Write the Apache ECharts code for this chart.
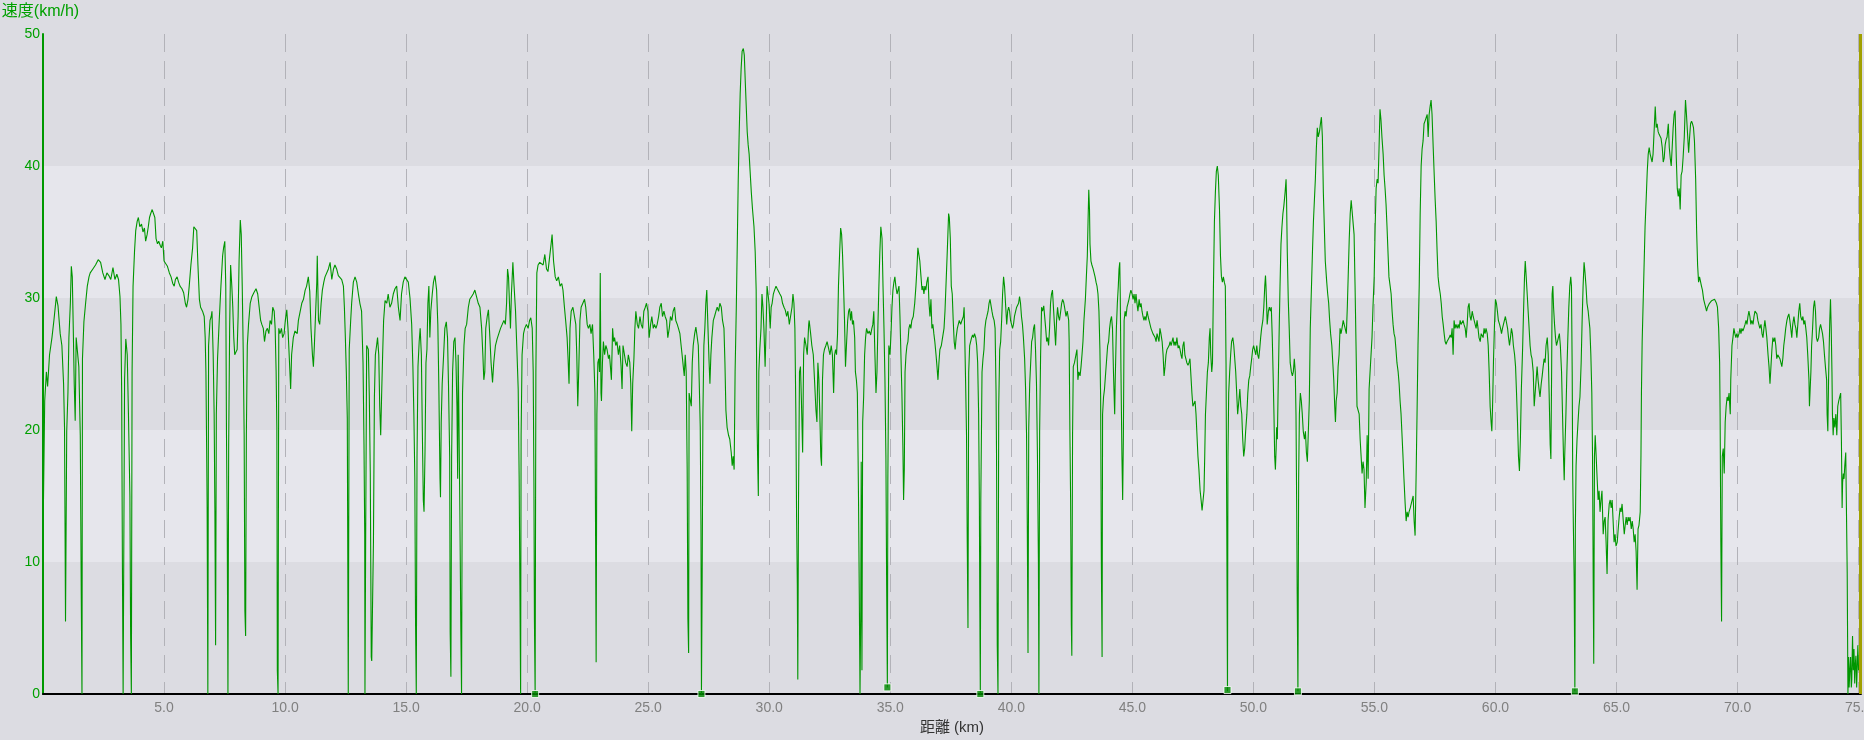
<!DOCTYPE html>
<html>
<head>
<meta charset="utf-8">
<style>
html,body{margin:0;padding:0;background:#dcdce2;}
#chart{width:1864px;height:740px;}
</style>
<script src="https://cdn.jsdelivr.net/npm/echarts@6/dist/echarts.min.js"></script>
</head>
<body>
<div id="chart"></div>
<script>
// distance along the route (km)
const distKm = [
0.02,0.07,0.14,0.19,0.27,0.37,0.45,0.55,0.62,0.71,0.78,0.85,0.89,0.93,0.98,1.03,1.07,1.13,1.17,1.21,1.25,1.29,1.33,1.37,1.43,1.48,1.54,1.58,1.61,1.63,1.69,1.76,1.83,1.90,1.95,2.06,2.17,2.28,2.38,2.47,2.56,2.64,2.72,2.80,2.89,2.97,3.05,3.12,3.18,3.22,3.25,3.28,3.31,3.34,3.37,3.42,3.48,3.53,3.59,3.62,3.65,3.68,3.72,3.78,3.83,3.89,3.94,4.00,4.07,4.13,4.19,4.24,4.30,4.35,4.40,4.45,4.51,4.56,4.62,4.67,4.73,4.78,4.84,4.89,4.95,5.00,5.06,5.14,5.22,5.29,5.36,5.42,5.47,5.54,5.60,5.66,5.74,5.81,5.88,5.93,5.99,6.04,6.11,6.18,6.23,6.29,6.35,6.40,6.46,6.51,6.59,6.66,6.70,6.73,6.76,6.78,6.81,6.84,6.90,6.95,6.98,7.03,7.07,7.10,7.13,7.16,7.21,7.28,7.35,7.42,7.46,7.51,7.55,7.58,7.61,7.64,7.67,7.71,7.75,7.80,7.84,7.88,7.92,7.97,8.02,8.06,8.10,8.15,8.19,8.23,8.27,8.31,8.34,8.37,8.40,8.44,8.49,8.56,8.63,8.71,8.80,8.87,8.93,8.99,9.04,9.10,9.15,9.21,9.27,9.33,9.38,9.44,9.49,9.55,9.59,9.63,9.66,9.68,9.71,9.74,9.79,9.85,9.90,9.96,10.01,10.07,10.12,
10.20,10.23,10.27,10.34,10.41,10.50,10.55,10.62,10.69,10.76,10.83,10.89,10.96,11.02,11.07,11.13,11.17,11.21,11.27,11.31,11.33,11.38,11.43,11.49,11.54,11.60,11.65,11.72,11.79,11.86,11.93,12.00,12.06,12.13,12.20,12.27,12.34,12.41,12.45,12.49,12.53,12.57,12.61,12.65,12.71,12.75,12.82,12.89,12.96,13.03,13.09,13.16,13.22,13.26,13.29,13.30,13.33,13.37,13.44,13.48,13.52,13.56,13.58,13.65,13.69,13.73,13.78,13.82,13.87,13.91,13.95,13.99,14.03,14.07,14.13,14.20,14.26,14.33,14.40,14.47,14.54,14.61,14.68,14.75,14.81,14.88,14.95,15.02,15.09,15.16,15.23,15.28,15.32,15.36,15.39,15.42,15.45,15.49,15.54,15.58,15.63,15.67,15.71,15.74,15.78,15.82,15.86,15.90,15.94,15.98,16.02,16.08,16.13,16.19,16.26,16.31,16.35,16.40,16.42,16.45,16.49,16.55,16.60,16.66,16.71,16.75,16.80,16.82,16.85,16.88,16.92,16.97,17.02,17.06,17.10,17.13,17.15,17.18,17.22,17.26,17.29,17.33,17.39,17.44,17.50,17.57,17.63,17.70,17.77,17.84,17.91,17.98,18.05,18.12,18.17,18.21,18.25,18.29,18.35,18.40,18.46,18.51,18.57,18.62,18.69,18.76,18.83,18.90,18.97,19.04,19.10,19.15,19.19,19.23,19.27,19.31,19.35,19.41,19.46,19.52,19.57,19.63,19.67,19.70,19.73,19.75,19.79,19.85,19.90,19.97,20.04,20.10,20.15,20.21,20.25,20.28,20.30,20.33,20.36,20.40,20.45,20.52,20.59,20.66,20.73,20.80,20.86,
20.99,21.03,21.09,21.16,21.22,21.29,21.36,21.43,21.48,21.54,21.59,21.65,21.69,21.73,21.77,21.82,21.89,21.96,22.01,22.05,22.09,22.13,22.18,22.23,22.30,22.37,22.42,22.48,22.53,22.59,22.64,22.70,22.75,22.80,22.82,22.85,22.88,22.92,22.96,22.99,23.02,23.05,23.07,23.11,23.15,23.20,23.25,23.30,23.36,23.40,23.44,23.48,23.53,23.57,23.61,23.66,23.71,23.77,23.82,23.88,23.92,23.96,24.02,24.07,24.13,24.18,24.24,24.28,24.32,24.36,24.41,24.45,24.49,24.55,24.60,24.66,24.71,24.77,24.82,24.88,24.93,24.99,25.04,25.10,25.15,25.21,25.26,25.32,25.37,25.43,25.48,25.54,25.59,25.65,25.70,25.76,25.81,25.87,25.92,25.98,26.03,26.09,26.14,26.20,26.25,26.31,26.36,26.40,26.45,26.49,26.53,26.57,26.61,26.64,26.67,26.69,26.73,26.78,26.82,26.86,26.92,26.97,27.03,27.07,27.11,27.15,27.18,27.20,27.23,27.26,27.30,27.34,27.38,27.42,27.47,27.51,27.55,27.59,27.63,27.69,27.74,27.80,27.85,27.91,27.96,28.02,28.07,28.13,28.17,28.21,28.26,28.32,28.37,28.43,28.47,28.51,28.55,28.59,28.64,28.68,28.72,28.76,28.80,28.84,28.88,28.93,28.97,29.01,29.05,29.09,29.13,29.17,29.21,29.26,29.31,29.37,29.42,29.46,29.49,29.52,29.55,29.57,29.61,29.66,29.70,29.74,29.78,29.83,29.87,29.91,29.95,29.99,30.04,30.08,30.12,30.17,30.22,30.28,30.33,30.39,30.44,30.50,30.55,30.61,30.66,30.72,30.77,30.83,30.88,30.94,30.98,31.02,31.06,31.10,31.13,31.16,31.18,31.21,31.25,31.29,31.33,31.38,31.42,31.46,31.52,31.57,31.63,
31.65,31.71,31.76,31.82,31.87,31.93,31.97,32.01,32.05,32.09,32.13,32.16,32.20,32.24,32.28,32.34,32.39,32.45,32.51,32.56,32.61,32.66,32.70,32.74,32.78,32.82,32.86,32.91,32.95,32.99,33.03,33.07,33.11,33.15,33.19,33.24,33.28,33.32,33.36,33.40,33.44,33.48,33.53,33.56,33.60,33.64,33.67,33.69,33.72,33.75,33.78,33.80,33.83,33.86,33.90,33.94,33.98,34.02,34.08,34.13,34.19,34.24,34.28,34.32,34.36,34.41,34.45,34.49,34.53,34.57,34.61,34.66,34.70,34.74,34.78,34.82,34.85,34.88,34.90,34.94,34.99,35.03,35.07,35.11,35.15,35.19,35.23,35.28,35.32,35.36,35.40,35.44,35.48,35.52,35.55,35.58,35.61,35.65,35.69,35.73,35.77,35.81,35.85,35.89,35.95,36.01,36.06,36.10,36.14,36.18,36.22,36.27,36.31,36.35,36.39,36.43,36.47,36.51,36.56,36.60,36.64,36.68,36.72,36.76,36.80,36.84,36.89,36.93,36.97,37.01,37.05,37.11,37.16,37.22,37.26,37.30,37.34,37.38,37.41,37.44,37.48,37.52,37.56,37.60,37.64,37.68,37.72,37.77,37.81,37.85,37.91,37.96,38.02,38.05,38.07,38.11,38.15,38.18,38.21,38.24,38.28,38.32,38.36,38.40,38.44,38.48,38.53,38.57,38.61,38.65,38.68,38.70,38.72,38.74,38.79,38.83,38.87,38.91,38.95,38.99,39.04,39.08,39.12,39.16,39.20,39.24,39.29,39.33,39.37,39.39,39.42,39.45,39.48,39.52,39.56,39.60,39.64,39.68,39.72,39.77,39.81,39.85,39.89,39.93,39.97,40.01,40.05,40.09,40.13,40.18,40.22,40.26,40.30,40.34,40.38,40.42,40.46,40.50,40.55,40.59,40.63,40.66,40.69,40.72,40.76,40.80,40.84,40.88,40.92,40.96,41.00,41.04,41.08,41.12,41.14,41.17,41.21,41.25,41.29,41.34,41.38,41.42,41.46,41.50,41.54,41.58,41.62,41.66,41.70,41.75,41.79,41.83,41.87,41.91,41.95,41.99,42.04,42.08,42.12,42.16,42.20,42.26,42.31,42.37,
42.39,42.42,42.45,42.48,42.50,42.53,42.56,42.61,42.67,42.71,42.75,42.79,42.84,42.88,42.92,42.96,43.00,43.06,43.10,43.14,43.17,43.20,43.23,43.25,43.29,43.33,43.38,43.42,43.46,43.50,43.54,43.58,43.62,43.66,43.69,43.72,43.75,43.77,43.81,43.85,43.90,43.94,43.98,44.02,44.06,44.10,44.14,44.18,44.22,44.27,44.29,44.34,44.38,44.42,44.45,44.48,44.50,44.53,44.57,44.60,44.63,44.66,44.70,44.74,44.78,44.82,44.86,44.90,44.94,44.99,45.03,45.07,45.11,45.15,45.19,45.23,45.28,45.32,45.36,45.40,45.44,45.48,45.52,45.56,45.61,45.65,45.69,45.73,45.77,45.81,45.85,45.90,45.94,45.98,46.02,46.06,46.10,46.14,46.18,46.23,46.27,46.31,46.35,46.39,46.43,46.47,46.52,46.56,46.60,46.64,46.68,46.72,46.76,46.80,46.84,46.89,46.93,46.97,47.01,47.05,47.09,47.13,47.17,47.21,47.25,47.30,47.34,47.38,47.42,47.46,47.50,47.55,47.59,47.63,47.67,47.71,47.75,47.80,47.84,47.88,47.92,47.96,47.99,48.02,48.06,48.10,48.14,48.18,48.21,48.24,48.28,48.31,48.35,48.39,48.43,48.47,48.51,48.55,48.60,48.64,48.68,48.72,48.76,48.80,48.84,48.87,48.90,48.93,48.95,48.98,49.02,49.06,49.10,49.15,49.19,49.23,49.27,49.31,49.35,49.40,49.44,49.48,49.52,49.56,49.60,49.64,49.68,49.73,49.77,49.81,49.85,49.89,49.93,49.97,50.01,50.05,50.10,50.14,50.18,50.22,50.26,50.30,50.34,50.39,50.43,50.47,50.50,50.52,50.55,50.57,50.62,50.66,50.70,50.74,50.78,50.82,50.85,50.88,50.91,50.94,50.96,50.99,51.02,51.06,51.10,51.14,51.18,51.22,51.26,51.31,51.35,51.37,51.40,51.44,51.48,51.52,51.57,51.61,51.65,51.69,51.73,51.76,51.79,51.81,51.84,51.87,51.90,51.94,51.98,52.02,52.06,52.11,52.15,52.19,52.23,52.27,52.31,52.35,52.40,52.44,52.48,52.52,52.56,52.60,52.64,52.68,52.73,52.77,52.81,52.85,52.89,52.93,52.97,
53.03,53.07,53.11,53.15,53.19,53.24,53.28,53.32,53.36,53.39,53.42,53.46,53.50,53.54,53.58,53.62,53.66,53.71,53.75,53.79,53.84,53.88,53.92,53.96,54.00,54.04,54.08,54.12,54.16,54.20,54.24,54.28,54.33,54.37,54.41,54.45,54.49,54.53,54.57,54.61,54.66,54.70,54.74,54.78,54.82,54.86,54.90,54.94,54.99,55.03,55.07,55.11,55.15,55.19,55.23,55.27,55.31,55.36,55.40,55.44,55.48,55.52,55.56,55.60,55.65,55.69,55.73,55.77,55.81,55.85,55.89,55.93,55.98,56.02,56.06,56.10,56.14,56.18,56.22,56.27,56.31,56.35,56.39,56.43,56.48,56.52,56.56,56.60,56.64,56.68,56.72,56.76,56.80,56.85,56.89,56.93,56.97,57.01,57.05,57.09,57.14,57.18,57.22,57.26,57.30,57.34,57.38,57.43,57.47,57.51,57.55,57.59,57.63,57.67,57.72,57.76,57.80,57.84,57.88,57.92,57.96,58.00,58.04,58.09,58.13,58.17,58.21,58.25,58.29,58.33,58.37,58.42,58.46,58.50,58.54,58.58,58.62,58.66,58.70,58.75,58.79,58.83,58.87,58.91,58.95,58.99,59.04,59.08,59.12,59.16,59.20,59.24,59.28,59.32,59.37,59.41,59.45,59.49,59.53,59.57,59.61,59.66,59.70,59.74,59.78,59.82,59.85,59.88,59.92,59.96,60.00,60.04,60.08,60.12,60.17,60.21,60.25,60.29,60.33,60.37,60.41,60.45,60.50,60.54,60.58,60.62,60.66,60.70,60.74,60.79,60.83,60.87,60.91,60.95,60.99,61.03,61.07,61.12,61.16,61.20,61.23,61.27,61.31,61.35,61.39,61.43,61.47,61.51,61.56,61.60,61.64,61.68,61.72,61.76,61.80,61.84,61.89,61.93,61.97,62.01,62.05,62.09,62.14,62.18,62.22,62.26,62.29,62.32,62.34,62.37,62.40,62.44,62.48,62.52,62.56,62.60,62.64,62.68,62.73,62.77,62.81,62.84,62.86,62.91,62.95,62.99,63.03,63.07,63.11,63.14,63.17,63.19,63.22,63.25,63.28,63.30,63.33,63.37,63.41,63.45,63.49,63.54,63.58,63.62,63.66,63.70,63.74,63.78,63.83,63.86,63.90,63.94,63.98,
64.01,64.04,64.06,64.09,64.12,64.16,64.20,64.24,64.28,64.32,64.36,64.40,64.45,64.49,64.53,64.57,64.61,64.65,64.70,64.74,64.78,64.82,64.86,64.90,64.94,64.98,65.03,65.07,65.11,65.15,65.19,65.23,65.28,65.32,65.36,65.40,65.44,65.48,65.52,65.56,65.61,65.65,65.69,65.73,65.77,65.81,65.85,65.89,65.93,65.98,66.01,66.03,66.06,66.10,66.14,66.18,66.23,66.27,66.31,66.35,66.39,66.43,66.47,66.51,66.56,66.60,66.64,66.68,66.72,66.76,66.80,66.84,66.89,66.93,66.97,67.01,67.05,67.09,67.14,67.18,67.22,67.26,67.30,67.34,67.38,67.42,67.47,67.51,67.55,67.59,67.63,67.67,67.71,67.75,67.80,67.83,67.85,67.89,67.93,67.98,68.02,68.06,68.10,68.14,68.18,68.22,68.27,68.31,68.35,68.39,68.43,68.47,68.51,68.55,68.60,68.64,68.68,68.72,68.76,68.80,68.84,68.89,68.93,68.97,69.01,69.05,69.09,69.13,69.17,69.22,69.26,69.28,69.31,69.34,69.37,69.41,69.45,69.49,69.53,69.57,69.61,69.65,69.70,69.72,69.77,69.81,69.85,69.89,69.93,69.97,70.01,70.06,70.10,70.14,70.18,70.22,70.26,70.31,70.35,70.39,70.43,70.47,70.51,70.55,70.59,70.64,70.68,70.72,70.76,70.80,70.84,70.88,70.92,70.97,71.01,71.05,71.09,71.13,71.17,71.21,71.26,71.30,71.34,71.38,71.42,71.46,71.50,71.54,71.58,71.62,71.66,71.70,71.75,71.79,71.83,71.87,71.91,71.95,71.99,72.04,72.08,72.12,72.16,72.20,72.24,72.28,72.33,72.37,72.41,72.45,72.49,72.53,72.57,72.61,72.66,72.70,72.74,72.78,72.82,72.86,72.90,72.95,72.97,73.00,73.03,73.06,73.10,73.14,73.18,73.22,73.26,73.30,73.35,73.39,73.43,73.47,73.51,73.55,73.59,73.63,73.68,73.70,73.73,73.76,73.78,73.81,73.84,73.87,73.90,73.92,73.95,73.98,74.02,74.06,74.10,74.14,74.18,74.22,74.26,74.29,74.32,74.34,74.37,74.40,74.43,74.47,74.50,74.53,74.56,74.59,74.61,74.64,74.67,74.70,74.72,74.75,74.78,74.81,74.84,74.86,74.89,74.92,74.95,74.97,75.00
];
// speed at each distance (km/h)
const speedKmh = [
14.7,22.2,24.4,23.3,25.7,27.0,28.3,30.1,29.4,27.3,26.4,23.5,20.1,5.5,19.9,22.8,27.0,29.6,32.4,31.6,27.7,23.5,20.7,27.0,27.0,24.8,19.6,7.6,0,25.4,28.2,29.6,30.9,31.6,31.9,32.2,32.5,32.9,32.7,31.9,31.4,31.9,31.7,31.4,32.3,31.4,31.8,31.4,30.1,28.0,22.8,9.9,0,0,23.8,26.9,25.7,21.2,15.0,4.4,0,24.4,30.9,33.5,35.1,35.8,36.1,35.4,35.6,35.0,35.3,34.3,34.8,35.4,36.1,36.4,36.7,36.6,36.1,34.5,34.1,34.3,34.0,33.8,34.3,32.8,32.7,32.4,31.9,31.6,31.1,30.9,31.4,31.6,31.2,30.9,30.7,30.4,29.6,29.3,29.9,30.9,32.5,33.8,35.4,35.5,35.1,32.5,29.9,29.3,29.0,28.6,27.0,24.4,18.6,14.1,0,26.4,28.3,28.6,29.0,25.7,21.2,14.1,3.7,21.2,25.4,28.3,30.9,33.2,33.8,34.3,30.9,19.6,12.8,0,18.9,27.7,32.5,30.9,29.3,27.0,25.7,25.9,26.1,28.6,32.8,35.9,34.8,30.9,26.1,19.6,6.3,4.4,19.6,26.4,28.0,29.6,30.1,30.4,30.7,30.3,29.3,28.3,28.0,27.7,26.7,27.5,27.7,27.3,28.3,28.0,29.3,29.0,27.7,24.4,20.2,1.8,0,27.7,27.3,27.7,27.0,27.3,28.3,29.1,27.7,
24.4,23.1,25.7,27.0,27.5,27.3,28.3,28.3,29.6,29.9,30.6,30.9,31.6,30.5,27.7,25.7,24.8,26.4,29.3,31.2,33.2,28.3,28.0,29.6,30.6,31.2,31.6,31.7,32.2,32.7,31.4,32.2,32.5,32.2,31.7,31.6,31.4,30.9,29.3,27.0,24.4,20.9,0,26.1,28.3,29.6,31.2,31.6,31.2,30.3,29.6,29.0,25.1,18.9,12.1,0,12.1,26.4,26.1,22.5,16.7,2.8,2.5,11.5,22.5,25.7,26.4,27.0,25.7,21.8,19.6,22.8,25.7,28.3,29.8,29.6,30.3,29.3,29.6,30.3,30.7,30.9,29.3,28.3,30.3,31.2,31.6,31.7,31.2,30.0,28.0,24.8,21.2,16.3,5.3,0,18.0,24.8,26.7,27.7,25.7,19.9,14.7,13.8,18.3,25.1,26.1,29.6,30.9,27.0,29.0,30.3,31.2,31.7,30.6,28.0,23.5,16.3,14.9,20.6,23.5,25.7,27.7,28.2,27.0,23.5,18.0,4.7,1.3,18.0,24.4,26.7,27.0,25.1,21.8,16.3,25.7,21.2,13.8,5.0,0,22.8,26.4,27.7,28.0,29.3,29.9,30.1,30.3,30.6,30.7,29.6,29.3,27.7,25.7,23.8,24.4,27.7,28.6,29.1,27.0,25.1,23.6,25.1,26.4,26.9,27.3,27.7,28.0,28.3,28.0,29.6,32.2,31.6,29.6,27.7,30.3,32.7,30.9,29.0,26.4,23.1,16.3,8.3,0,19.6,25.7,27.3,27.7,28.0,27.7,28.3,28.5,27.7,24.4,16.0,5.7,0,24.4,31.9,32.5,32.7,32.8,32.5,33.3,32.2,32.0,
34.1,34.8,32.8,31.6,31.3,31.6,30.9,31.1,30.6,29.3,28.3,27.0,25.4,23.5,27.7,29.0,29.3,29.4,28.0,25.7,21.8,24.4,28.3,29.3,29.6,29.9,29.3,28.0,27.7,28.0,27.3,28.0,25.7,22.8,14.7,2.4,21.2,25.1,25.4,24.4,31.9,22.8,22.2,25.1,26.7,25.7,26.4,26.1,25.4,25.7,24.8,23.8,27.7,26.7,27.0,26.4,26.7,25.7,26.4,24.8,23.1,26.4,25.7,25.1,24.8,25.7,25.1,23.5,19.9,23.5,25.4,27.7,29.0,28.0,27.7,28.6,28.0,27.7,29.0,29.3,29.6,29.0,27.0,28.0,28.6,27.7,28.0,27.7,28.0,28.6,29.3,29.6,28.6,29.0,28.6,28.3,27.0,27.7,28.6,28.3,29.0,29.3,28.3,28.0,27.7,27.3,26.4,25.7,24.8,24.1,25.7,24.4,17.0,5.7,3.1,22.8,22.8,21.8,25.1,26.4,27.3,27.8,27.7,26.4,23.5,20.2,12.8,0,8.9,21.2,26.4,27.7,29.6,30.6,27.7,25.4,23.5,25.7,27.0,28.3,28.6,29.0,29.3,29.0,29.6,29.3,28.3,27.7,25.1,21.5,20.2,19.6,19.3,18.3,17.3,18.0,17.0,24.4,29.3,34.1,39.0,42.6,45.5,47.4,48.7,48.9,48.4,46.4,44.5,42.6,41.6,40.9,39.6,38.0,36.7,35.4,33.5,30.6,21.2,18.0,15.0,24.4,26.1,27.7,30.3,29.3,27.7,24.8,27.7,30.9,30.3,29.6,27.7,29.3,29.6,30.3,30.6,30.9,30.7,30.6,30.3,30.1,29.6,29.3,29.1,28.6,29.0,28.0,28.6,29.3,30.3,29.6,27.7,21.2,13.4,8.3,1.1,14.7,24.4,24.8,22.2,18.3,25.7,27.0,26.4,25.7,28.0,
28.3,27.3,26.4,25.7,23.8,21.5,20.6,25.1,23.8,21.2,18.0,17.3,23.8,25.7,26.1,26.4,26.7,26.2,25.7,26.4,25.7,22.8,25.7,26.1,25.7,27.2,30.9,33.5,35.3,34.8,33.2,30.9,28.3,24.8,26.4,28.3,29.0,29.2,28.3,29.0,28.0,28.3,27.0,24.4,23.8,22.8,18.0,14.4,7.6,0,6.3,17.6,1.8,20.6,22.5,25.7,27.0,27.7,27.3,27.5,27.2,27.7,28.0,29.0,26.1,22.8,24.4,28.0,30.9,33.5,35.4,34.5,30.9,27.7,23.8,18.0,8.3,0.5,16.3,26.4,25.7,27.3,29.3,30.6,31.2,31.6,30.9,30.3,30.6,30.9,28.6,25.7,22.8,18.9,14.7,17.0,24.4,25.7,26.4,26.7,27.7,28.0,27.7,28.3,28.6,29.6,30.9,32.2,33.8,33.7,32.8,31.6,30.6,30.9,30.3,30.9,30.6,31.2,31.6,29.6,28.6,29.9,27.7,28.0,27.3,26.7,25.7,24.8,23.8,25.1,26.1,26.4,27.0,27.7,29.0,30.9,32.8,34.8,36.4,36.1,34.5,30.9,30.3,28.3,26.7,26.1,27.0,27.7,28.0,28.3,28.0,28.3,28.6,29.3,27.7,23.8,19.6,11.5,5.0,24.4,26.4,26.7,27.0,27.2,27.0,27.3,27.0,26.4,25.1,21.2,14.7,6.6,0,14.7,24.4,25.4,26.1,27.7,28.3,28.6,29.0,29.6,29.9,29.9,29.0,28.6,28.3,27.7,22.8,18.0,3.7,0,21.8,26.1,26.7,28.3,30.3,31.6,30.9,29.3,28.0,29.0,29.3,29.0,28.3,28.0,27.7,28.0,28.6,29.0,29.3,29.3,29.6,30.1,29.6,28.6,28.0,27.0,25.4,23.1,19.6,12.8,3.1,20.2,23.5,25.1,26.7,27.0,27.7,28.0,26.1,23.5,18.0,9.9,0,19.9,25.7,29.3,29.0,29.4,29.3,27.7,26.7,27.0,26.4,27.7,29.6,30.3,30.6,29.0,27.7,26.4,28.3,29.3,28.6,28.3,29.0,29.6,29.9,29.7,29.3,28.6,29.0,28.3,
26.7,19.9,14.7,5.2,2.9,19.6,24.8,25.1,25.7,26.1,23.8,24.4,24.1,24.8,25.7,26.7,28.3,29.9,31.6,33.2,35.8,38.2,36.7,34.1,32.8,32.5,32.2,31.9,31.6,31.2,30.9,30.3,29.0,26.1,22.5,9.9,2.8,21.2,22.5,23.1,24.4,25.4,26.4,26.7,27.7,28.3,28.6,27.7,24.4,21.2,23.5,27.7,29.6,30.9,32.2,32.7,30.3,24.4,18.0,14.7,19.6,28.3,29.0,28.6,29.3,29.6,29.9,30.3,30.6,30.3,29.9,30.3,29.6,30.3,29.6,29.0,29.9,29.3,29.6,29.0,28.6,28.3,28.6,28.3,29.0,28.6,28.3,28.0,27.7,27.7,27.3,27.3,27.0,26.7,27.3,27.0,26.7,27.7,27.3,26.7,25.7,24.1,24.8,25.7,26.1,26.2,26.4,26.7,26.4,26.7,27.0,26.4,26.7,26.4,27.0,26.2,26.4,26.1,25.7,25.4,26.4,26.7,25.7,25.4,25.1,24.9,25.1,25.4,24.1,22.8,21.8,21.8,22.2,21.2,19.6,18.0,17.0,15.4,14.7,13.9,13.8,15.4,18.0,21.2,22.8,24.4,25.1,27.0,27.7,25.7,24.4,25.1,30.9,35.8,38.0,39.6,40.0,39.3,36.7,33.2,31.6,31.2,31.6,31.2,30.9,25.1,13.1,0.2,18.0,22.8,24.4,25.7,26.7,27.0,26.4,25.4,24.4,22.8,21.2,22.2,23.1,21.8,21.2,19.3,18.0,18.6,19.9,21.2,22.8,23.8,24.1,24.8,25.4,26.1,26.4,26.4,25.7,26.4,25.7,25.4,26.1,27.0,27.7,28.3,29.3,30.9,31.7,30.9,29.3,28.0,29.0,29.3,29.0,29.3,27.0,23.8,21.2,18.0,17.0,18.6,20.2,19.3,22.8,27.0,30.9,34.1,35.4,36.4,37.0,38.0,39.0,37.5,33.5,29.9,27.7,25.1,24.4,24.1,24.4,25.4,24.4,21.2,13.8,7.6,0.2,16.3,21.2,22.8,22.2,21.2,19.9,19.3,19.9,18.3,17.6,19.9,22.2,27.7,30.9,33.5,35.8,37.4,39.0,41.3,42.9,42.2,42.6,43.2,43.7,42.2,38.0,35.4,32.8,
31.2,30.3,29.6,28.3,27.3,26.4,25.1,23.8,21.8,20.6,22.2,22.8,24.8,25.7,27.7,27.3,27.7,28.3,28.0,27.7,27.3,29.3,31.9,34.5,36.4,37.4,37.4,37.5,34.8,30.9,26.4,21.8,21.8,21.2,19.3,18.0,16.7,17.6,17.0,14.1,16.0,19.6,16.3,23.1,24.4,25.7,27.0,29.3,31.6,35.4,38.3,39.0,38.7,41.3,44.3,43.5,42.2,40.9,39.3,38.3,37.1,35.4,33.5,31.6,30.9,30.3,29.0,28.0,27.3,27.0,26.1,25.1,24.4,23.5,22.2,21.2,19.6,18.0,16.3,14.4,13.1,13.8,13.4,13.8,14.1,14.4,14.7,15.0,13.1,12.0,16.3,21.2,26.4,30.9,36.4,40.0,41.3,41.9,43.2,43.4,43.5,43.9,42.2,43.9,44.5,45.0,43.9,41.3,39.3,37.4,35.8,33.5,31.6,30.9,30.3,29.6,28.6,28.0,27.3,26.7,26.5,26.7,26.7,27.0,27.2,27.0,27.7,25.7,28.3,27.7,28.0,27.7,28.0,27.7,28.3,28.0,28.0,28.3,28.0,27.7,27.0,28.0,29.3,29.6,28.6,28.3,29.0,28.6,28.3,28.0,27.7,28.3,27.7,27.0,26.7,27.3,27.3,27.0,27.7,27.3,27.7,27.3,26.4,24.4,21.8,20.6,19.9,21.8,25.4,28.0,29.9,29.6,29.0,28.3,28.0,27.7,27.3,27.7,28.0,28.3,28.6,28.6,27.7,27.0,26.4,27.0,27.7,27.3,26.4,25.7,24.8,22.8,20.6,18.0,16.9,19.3,23.1,26.1,29.0,31.6,32.8,31.6,30.3,29.0,27.7,26.4,25.7,25.4,24.4,21.8,22.8,23.8,24.8,23.8,23.1,22.5,23.5,24.1,24.8,25.4,25.1,26.4,27.0,25.7,22.5,18.9,17.8,24.4,30.3,30.9,29.3,28.0,27.0,26.4,26.7,27.0,27.3,26.4,24.4,21.2,18.0,16.2,18.0,21.2,24.4,27.0,29.3,30.9,31.6,30.9,24.4,16.7,12.5,8.9,0.2,12.5,17.3,19.3,20.6,21.8,22.5,25.1,28.3,30.9,32.7,31.9,30.9,29.6,29.0,29.0,27.7,25.7,22.8,
18.0,7.9,2.3,18.0,19.6,18.0,16.3,14.7,15.4,13.8,14.7,15.4,12.1,13.1,13.4,11.5,9.1,13.1,14.4,14.7,14.1,14.7,13.1,11.5,12.1,11.2,11.5,12.5,13.4,14.1,13.8,14.4,13.1,12.1,12.8,13.4,12.8,13.4,13.1,13.4,12.5,13.1,12.5,11.5,12.1,10.8,7.9,12.5,12.8,13.8,18.0,22.8,26.7,29.6,32.5,35.4,37.7,39.6,40.9,41.4,40.9,40.6,40.3,40.9,42.9,44.5,42.9,43.2,42.6,42.4,42.4,42.1,41.4,40.3,40.6,41.6,42.0,42.2,43.2,41.4,40.6,40.0,41.4,42.9,43.9,44.2,40.6,38.3,37.7,38.3,36.7,39.3,39.6,40.6,42.2,43.9,45.0,43.9,42.6,41.0,42.2,43.2,43.4,43.2,42.9,41.9,39.0,35.1,32.5,31.2,31.6,31.7,30.9,30.6,29.9,29.6,29.3,29.0,29.3,29.4,29.6,29.6,29.8,29.9,29.8,29.9,30.0,29.6,29.3,27.7,25.1,21.2,11.5,5.5,18.0,18.6,16.7,20.6,21.8,22.5,22.2,22.8,21.2,23.8,26.4,27.0,27.7,27.3,27.0,27.3,27.0,27.3,27.7,27.3,27.7,27.5,27.7,28.0,28.3,28.0,28.6,29.0,28.6,28.0,28.3,28.0,28.6,29.0,29.1,28.8,28.3,28.0,27.7,28.0,27.3,27.0,27.7,28.3,27.7,27.0,25.7,24.8,23.5,24.8,26.1,27.0,26.7,27.0,26.4,25.4,25.7,25.7,25.4,25.1,24.8,25.4,26.4,27.0,27.7,28.3,28.6,28.8,28.3,27.7,27.0,28.0,28.6,28.0,27.7,27.0,28.0,29.0,29.6,28.6,28.3,28.6,28.0,28.3,27.7,27.0,25.7,23.8,21.8,23.1,24.4,26.4,27.7,29.3,29.8,29.0,27.0,26.7,27.0,27.7,28.0,28.0,27.3,26.7,25.7,24.8,23.8,21.2,19.9,23.8,25.7,28.3,29.9,27.7,24.4,21.2,19.6,20.9,20.2,21.2,19.6,21.8,22.2,22.5,22.8,19.3,14.1,16.0,16.7,16.3,17.3,18.3,18.3,9.2,0,2.8,0.5,1.8,2.8,0.5,1.1,4.4,1.8,3.4,0.8,2.1,2.9,0.5,2.4,3.7,1.8
];
// stop markers (km, km/h)
const stopKm = [20.33, 27.20, 34.88, 38.72, 48.93, 51.84, 63.28];
const stopSpeed = [0, 0, 0.5, 0, 0.3, 0.2, 0.2];
// end-of-track marker
const endKm = 75.05;
const axisMaxKm = 75.1;
const xTickStep = 5;
const yTickStep = 10;

const speedData = distKm.map((d, i) => [d, speedKmh[i]]);
const stopData = stopKm.map((d, i) => [d, stopSpeed[i]]);

const chart = echarts.init(document.getElementById('chart'), null, {renderer: 'canvas'});
const FONT = "'Liberation Sans', 'Noto Sans CJK JP', sans-serif";
chart.setOption({
  backgroundColor: '#dcdce2',
  animation: false,
  textStyle: {fontFamily: FONT},
  grid: {left: 43, right: 3, top: 34, bottom: 46, containLabel: false, outerBoundsMode: 'none'},
  xAxis: {
    type: 'value', min: 0, max: axisMaxKm, interval: xTickStep,
    name: '距離 (km)', nameLocation: 'middle', nameGap: 25,
    nameTextStyle: {color: '#333333', fontSize: 15, fontFamily: FONT},
    axisLine: {show: true, onZero: false, lineStyle: {color: '#000000', width: 2}},
    axisTick: {show: false},
    axisLabel: {color: '#808080', fontSize: 14, margin: 7, fontFamily: FONT,
      showMinLabel: false, showMaxLabel: false,
      formatter: v => v.toFixed(1)},
    splitLine: {show: true, lineStyle: {color: '#b2b2b8', width: 1, type: [18, 9]}}
  },
  yAxis: {
    type: 'value', min: 0, max: 50, interval: yTickStep,
    name: '速度(km/h)', nameLocation: 'end', nameGap: 22,
    nameTextStyle: {color: '#00a000', fontSize: 16, align: 'center', verticalAlign: 'middle', fontFamily: FONT, padding: [0, 5, 0, 0]},
    axisLine: {show: true, lineStyle: {color: '#009900', width: 2}},
    axisTick: {show: false},
    axisLabel: {color: '#00a000', fontSize: 14, margin: 3, fontFamily: FONT},
    splitLine: {show: false},
    splitArea: {show: true, areaStyle: {color: ['#dcdce2', '#e6e6ec']}}
  },
  series: [
    {
      type: 'line', data: speedData, showSymbol: false, symbol: 'none',
      smooth: false,
      lineStyle: {color: '#009600', width: 1.1},
      itemStyle: {color: '#009600'},
      z: 3,
      markLine: {
        silent: true, symbol: ['none', 'none'], label: {show: false},
        lineStyle: {color: '#a0a000', width: 3, type: 'solid'},
        data: [{xAxis: endKm}]
      }
    },
    {
      type: 'scatter', data: stopData, symbol: 'rect', symbolSize: 7,
      itemStyle: {color: '#008800', borderColor: '#ffffff', borderWidth: 1},
      z: 4
    }
  ]
});
</script>
</body>
</html>
